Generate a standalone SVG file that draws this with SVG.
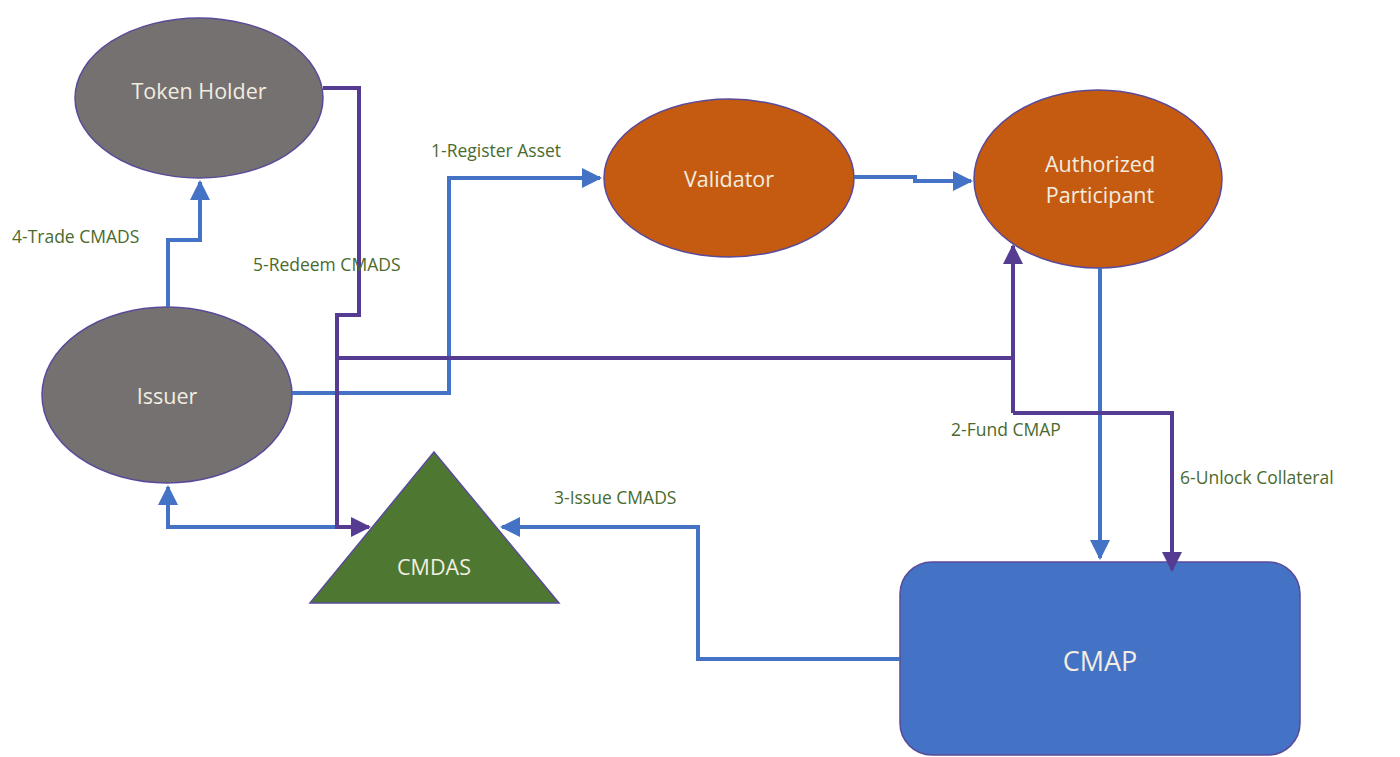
<svg xmlns="http://www.w3.org/2000/svg" width="1400" height="757" viewBox="0 0 1400 757">
<style>
.node{stroke:#5a4a9a;stroke-width:1.5}
.nt{font-family:"Open Sans","Liberation Sans",sans-serif;font-size:21.5px;fill:#f2ede0;text-anchor:middle;dominant-baseline:central}
.lbl{font-family:"Open Sans","Liberation Sans",sans-serif;font-size:17.5px;fill:#4a6a2e}
.b{fill:none;stroke:#4472c4;stroke-width:4}
.p{fill:none;stroke:#553c92;stroke-width:4}
</style>
<defs>
<marker id="ab" markerWidth="5" markerHeight="5" refX="4.5" refY="2.5" orient="auto" markerUnits="strokeWidth"><path d="M0,0 L5,2.5 L0,5 z" fill="#4472c4"/></marker>
<marker id="ap" markerWidth="5" markerHeight="5" refX="4.5" refY="2.5" orient="auto" markerUnits="strokeWidth"><path d="M0,0 L5,2.5 L0,5 z" fill="#553c92"/></marker>
</defs>
<g id="token-holder"><ellipse class="node" cx="199" cy="98" rx="124" ry="80" fill="#767171"/><text class="nt" x="199" y="90">Token Holder</text></g>
<g id="issuer"><ellipse class="node" cx="167" cy="395" rx="125" ry="88" fill="#767171"/><text class="nt" x="167" y="395">Issuer</text></g>
<g id="validator"><ellipse class="node" cx="729" cy="178" rx="125" ry="79" fill="#c55a11"/><text class="nt" x="729" y="178">Validator</text></g>
<g id="authorized-participant"><ellipse class="node" cx="1098" cy="179" rx="124" ry="89" fill="#c55a11"/><text class="nt" x="1100" y="163">Authorized</text><text class="nt" x="1100" y="194">Participant</text></g>
<g id="cmdas"><polygon class="node" points="434,452 559,603 310,603" fill="#4e7831"/><text class="nt" x="434" y="566">CMDAS</text></g>
<g id="cmap"><rect class="node" x="900" y="562" width="400" height="193" rx="32" fill="#4472c4"/><text class="nt" x="1100" y="660" style="font-size:27px">CMAP</text></g>
<g id="connectors">
<path class="b" d="M168,307 V240 H200 V182" marker-end="url(#ab)"/>
<path class="b" d="M292,393 H449 V178 H600" marker-end="url(#ab)"/>
<path class="b" d="M854,177 H915 V181 H971" marker-end="url(#ab)"/>
<path class="b" d="M1100,268 V558" marker-end="url(#ab)"/>
<path class="b" d="M337,527 H168 V487" marker-end="url(#ab)"/>
<path class="b" d="M900,659 H698 V527 H502" marker-end="url(#ab)"/>
<path class="p" d="M323,88 H359 V315 H337 V527 H369" marker-end="url(#ap)"/>
<path class="p" d="M337,358 H1013"/>
<path class="p" d="M1013,413 V246" marker-end="url(#ap)"/>
<path class="p" d="M1013,413 H1172 V570" marker-end="url(#ap)"/>
</g>
<g id="labels">
<text class="lbl" x="431" y="157">1-Register Asset</text>
<text class="lbl" x="12" y="243">4-Trade CMADS</text>
<text class="lbl" x="253" y="271">5-Redeem CMADS</text>
<text class="lbl" x="951" y="436">2-Fund CMAP</text>
<text class="lbl" x="554" y="504">3-Issue CMADS</text>
<text class="lbl" x="1180" y="484">6-Unlock Collateral</text>
</g>
</svg>
